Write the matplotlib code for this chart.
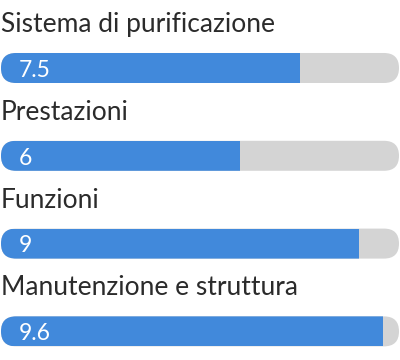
import matplotlib.pyplot as plt
from matplotlib.patches import FancyBboxPatch

categories = ['Sistema di purificazione', 'Prestazioni', 'Funzioni', 'Manutenzione e struttura']
values = [7.5, 6, 9, 9.6]
value_labels = ['7.5', '6', '9', '9.6']
max_value = 10

plt.rcParams['font.family'] = ['Lato', 'DejaVu Sans']

fig = plt.figure(figsize=(4, 3.6), dpi=100)
# x axis spans pixel 1..399, y uses category index (one row = ~88 px)
ax = fig.add_axes([1 / 400, 0, 398 / 400, 1])
ax.set_xlim(0, max_value)
ax.set_ylim(3.326, -0.7745)
ax.axis('off')

bar_h = 0.3417
r = 0.377
aspect = (bar_h / 2) / r

for i, (cat, v, lab) in enumerate(zip(categories, values, value_labels)):
    track = FancyBboxPatch((0, i - bar_h / 2), max_value, bar_h,
                           boxstyle=f'round,pad=0,rounding_size={r}',
                           mutation_aspect=aspect, facecolor='#d4d4d4',
                           edgecolor='none')
    ax.add_patch(track)
    bars = ax.barh([i], [v], height=bar_h, color='#4189db', linewidth=0)
    for b in bars:
        b.set_clip_path(track)
    ax.text(0.45, i + 0.1, lab, color='white', fontsize=16.5, va='baseline', ha='left')
    ax.text(0.0, i - 0.41, cat, color='#2b2b2b', fontsize=19, va='baseline', ha='left')

fig.savefig('out.png', dpi=100)
